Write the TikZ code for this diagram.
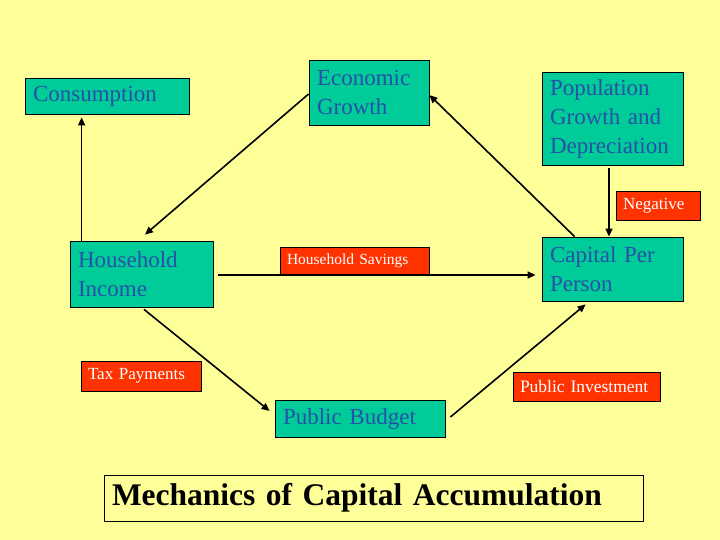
\documentclass[tikz,border=0pt]{standalone}
\usepackage{fontspec}
\setmainfont{Liberation Serif}
\usetikzlibrary{arrows.meta,calc}
\definecolor{bgyellow}{HTML}{FFFF99}
\definecolor{boxteal}{HTML}{00CC99}
\definecolor{txtblue}{HTML}{2850A8}
\definecolor{lblred}{HTML}{FF3300}
\tikzset{
  box/.style={draw=black, line width=0.8pt, fill=boxteal, text=txtblue,
    font=\fontsize{23}{29}\selectfont, align=left, inner xsep=8pt, inner ysep=0pt},
  lbl/.style={draw=black, line width=0.8pt, fill=lblred, text=white,
    align=left, inner xsep=7pt, inner ysep=0pt},
  arr/.style={draw=black, line width=1.6pt, -{Triangle[length=8pt,width=7pt]}},
}
\begin{document}
\begin{tikzpicture}[x=1pt,y=-1pt]
\fill[bgyellow] (0,0) rectangle (720,540);
\useasboundingbox (0,0) rectangle (720,540);
% main boxes
\node[box, text width=148pt, minimum height=36pt] (cons) at (107,96) {Consumption};
\node[box, text width=104pt, minimum height=65pt] (eco) at (369,92.5) {Economic\\Growth};
\node[box, text width=125pt, minimum height=93pt] (pop) at (612.5,118.5) {Population\\Growth and\\Depreciation};
\node[box, text width=125pt, minimum height=64pt] (cap) at (612.5,269) {Capital Per\\Person};
\node[box, text width=127pt, minimum height=66pt] (hi) at (141.5,274) {Household\\Income};
\node[box, text width=154pt, minimum height=37pt] (pb) at (360,418.5) {Public Budget};
% labels
\node[lbl, font=\fontsize{17}{20}\selectfont, text width=70pt, minimum height=29pt] (neg) at (658,205.5) {Negative};
\node[lbl, font=\fontsize{15.5}{18}\selectfont, text width=135pt, minimum height=27pt] (sav) at (354.5,260.5) {Household Savings};
\node[lbl, font=\fontsize{17}{20}\selectfont, text width=106pt, minimum height=30pt] (tax) at (141,376) {Tax Payments};
\node[lbl, font=\fontsize{17.5}{20}\selectfont, text width=133pt, minimum height=29pt] (pinv) at (586.5,386.5) {Public Investment};
% title
\node[draw=black, line width=0.8pt, text=black, font=\bfseries\fontsize{31.5}{36}\selectfont,
  align=left, inner xsep=8pt, inner ysep=0pt, text width=523pt, minimum height=46pt] (title) at (373.5,498)
  {Mechanics of Capital Accumulation};
% connectors
\draw[arr, shorten >=3pt] ([xshift=12pt]hi.north west) -- ([xshift=12pt]hi.north west |- cons.south);
\draw[arr] ([yshift=-1.5pt]eco.west) -- ([xshift=3.5pt,yshift=6pt]hi.north);
\draw[arr] ([xshift=33pt]cap.north west) -- ([yshift=-2.5pt]eco.east);
\draw[arr, shorten <=3pt] ([xshift=-3.5pt]pop.south) -- ([xshift=-3.5pt]cap.north);
\draw[arr, shorten <=5pt, shorten >=6pt] ([yshift=-1pt]hi.east) -- ([yshift=-1pt]hi.east -| cap.west);
\draw[arr] ([xshift=2.5pt,yshift=-2pt]hi.south) -- ([xshift=-5pt,yshift=7.5pt]pb.west);
\draw[arr] ([xshift=5pt,yshift=1.5pt]pb.east) -- ([xshift=44pt,yshift=-3pt]cap.south west);
\end{tikzpicture}
\end{document}
